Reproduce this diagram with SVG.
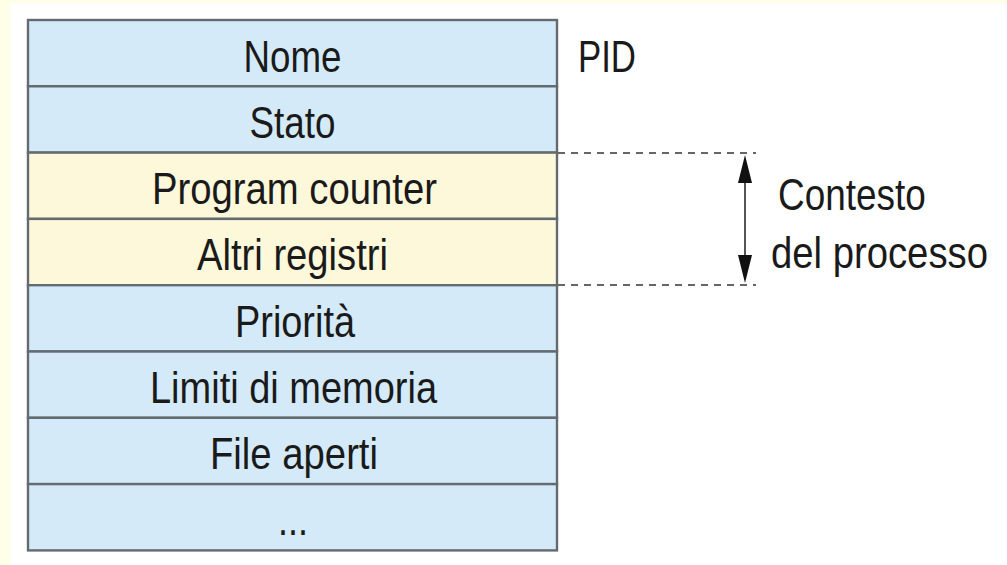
<svg xmlns="http://www.w3.org/2000/svg" width="1007" height="565" viewBox="0 0 1007 565">
  <style>
    .cell { stroke: #646b70; stroke-width: 2.4; }
    .blue { fill: #d4eaf9; }
    .yel { fill: #fef8db; }
    .t { font-family: "Liberation Sans", Arial, sans-serif; font-size: 44px; fill: #1a1a1a; text-anchor: middle; }
    .lbl { font-family: "Liberation Sans", Arial, sans-serif; font-size: 44px; fill: #1a1a1a; }
    .dash { stroke: #666; stroke-width: 2; stroke-dasharray: 7 6; fill: none; }
    .head { fill: #111; }
  </style>
  <!-- page background -->
  <rect x="0" y="0" width="1007" height="565" fill="#fffee6"/>
  <rect x="10" y="3" width="997" height="562" fill="#ffffff"/>

  <g id="nome"><rect class="cell blue" x="28" y="20" width="529" height="66.3"/><text class="t" x="292.5" y="72" textLength="98" lengthAdjust="spacingAndGlyphs">Nome</text></g>
  <g id="stato"><rect class="cell blue" x="28" y="86.3" width="529" height="66.3"/><text class="t" x="292.5" y="138" textLength="86" lengthAdjust="spacingAndGlyphs">Stato</text></g>
  <g id="pc"><rect class="cell yel" x="28" y="152.6" width="529" height="66.3"/><text class="t" x="294.5" y="204" textLength="285" lengthAdjust="spacingAndGlyphs">Program counter</text></g>
  <g id="registri"><rect class="cell yel" x="28" y="218.9" width="529" height="66.3"/><text class="t" x="292.5" y="270" textLength="191" lengthAdjust="spacingAndGlyphs">Altri registri</text></g>
  <g id="priorita"><rect class="cell blue" x="28" y="285.2" width="529" height="66.3"/><text class="t" x="295" y="337" textLength="120" lengthAdjust="spacingAndGlyphs">Priorità</text></g>
  <g id="memoria"><rect class="cell blue" x="28" y="351.5" width="529" height="66.3"/><text class="t" x="293.5" y="403" textLength="287" lengthAdjust="spacingAndGlyphs">Limiti di memoria</text></g>
  <g id="file"><rect class="cell blue" x="28" y="417.8" width="529" height="66.3"/><text class="t" x="294" y="469" textLength="168" lengthAdjust="spacingAndGlyphs">File aperti</text></g>
  <g id="altro"><rect class="cell blue" x="28" y="484.1" width="529" height="66.3"/><text class="t" x="293" y="535" textLength="30" lengthAdjust="spacingAndGlyphs">...</text></g>

  <g id="pid"><text class="lbl" x="578" y="72" textLength="58" lengthAdjust="spacingAndGlyphs">PID</text></g>

  <g id="connectors">
    <line class="dash" x1="558" y1="153" x2="756" y2="153"/>
    <line class="dash" x1="558" y1="285" x2="756" y2="285"/>
    <line x1="745" y1="175" x2="745" y2="263" stroke="#555" stroke-width="2"/>
    <polygon class="head" points="745,155 752,183 738,183"/>
    <polygon class="head" points="745,283 752,255 738,255"/>
  </g>

  <g id="contesto">
    <text class="lbl" transform="translate(778,210) scale(0.84,1)" x="0" y="0">Contesto</text>
    <text class="lbl" transform="translate(771,268) scale(0.87,1)" x="0" y="0">del processo</text>
  </g>
</svg>
